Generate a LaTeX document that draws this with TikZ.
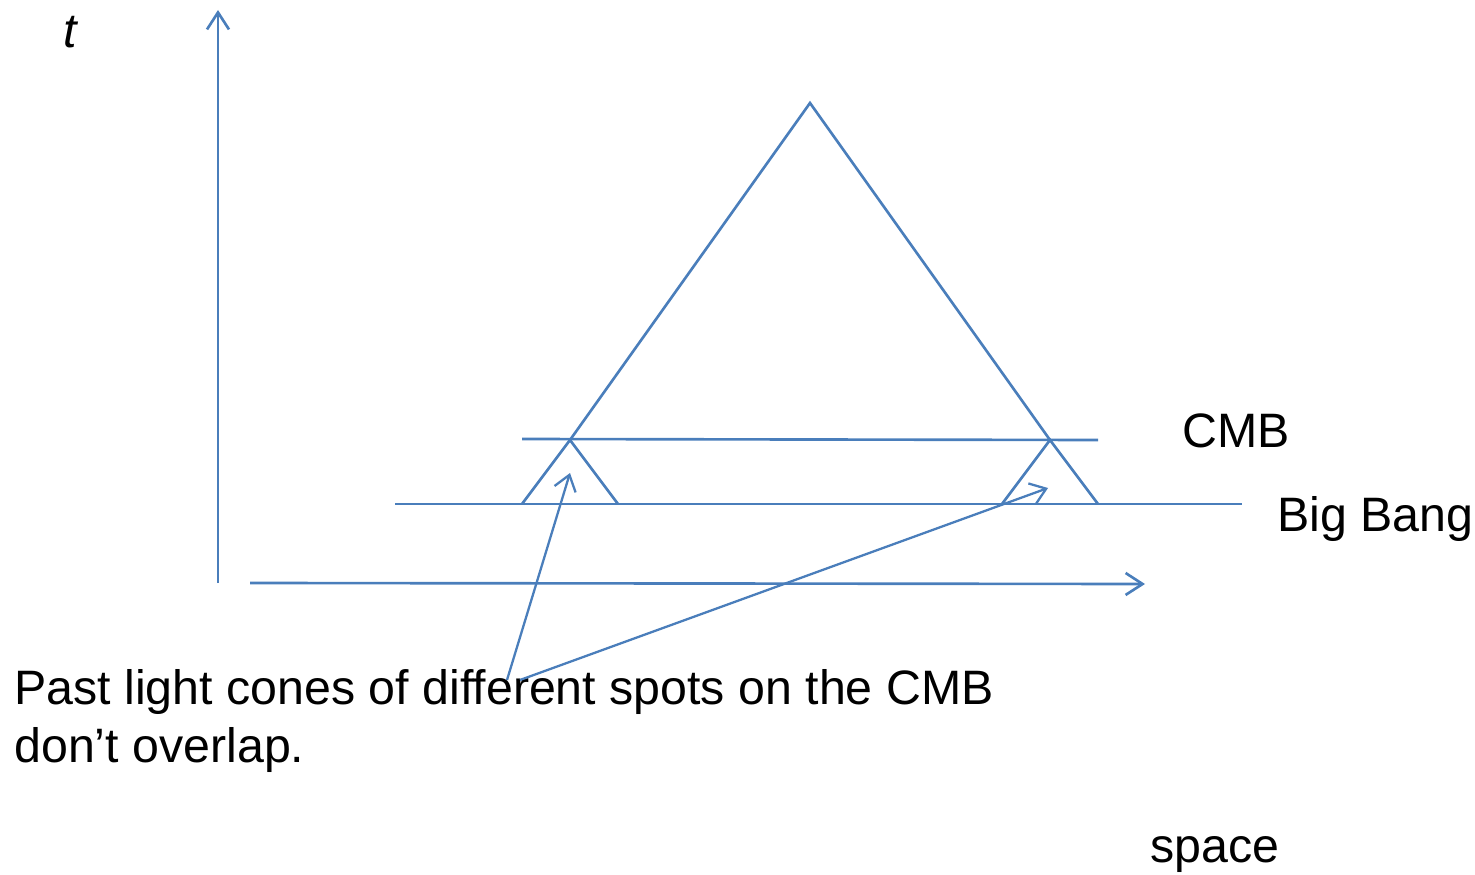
\documentclass[tikz,border=0pt]{standalone}
\usepackage{fontspec}
\setmainfont{Liberation Sans}
\usepackage{xcolor}
\usepackage{tikz}
\usetikzlibrary{arrows.meta, positioning}
\definecolor{coneblue}{HTML}{4A7EBB}
\tikzset{
  line/.style={draw=coneblue, line width=1.5pt},
  axis/.style={line, -{Straight Barb[length=3.4mm, width=4.4mm, line width=1.5pt]}},
  pointer/.style={line, line width=1.3pt, -{Straight Barb[length=3mm, width=4.4mm, line width=1.3pt]}},
  lbl/.style={font=\fontsize{27.5}{33}\selectfont, inner sep=0pt, text=black, anchor=base west, align=left},
}
\begin{document}
\begin{tikzpicture}[x=0.02cm, y=-0.02cm]
\useasboundingbox (0,0) rectangle (1475,875);
% axes
\coordinate (torig) at (218,583);
\coordinate (ttip) at (218,10);
\coordinate (sorig) at (250,583);
\coordinate (stip) at (1145,584);
\draw[axis] (torig) -- (ttip);
\draw[axis] (sorig) -- (stip);
\node[lbl, font=\fontsize{27.5}{33}\selectfont\itshape] (tlab) at (63,48) {t};
\node[lbl] (spacelab) at (1150,862) {space};
% CMB and Big Bang slices
\coordinate (cmbL) at (522,439);
\coordinate (cmbR) at (1098,440);
\coordinate (bbL) at (395,504);
\coordinate (bbR) at (1242,504);
\draw[line] (cmbL) -- (cmbR);
\draw[line] (bbL) -- (bbR);
\node[lbl] (cmblab) at (1182,447) {CMB};
\node[lbl] (bblab) at (1277,531) {Big Bang};
% big past light cone
\coordinate (apex) at (810,103);
\coordinate (spotA) at (570,440);
\coordinate (spotB) at (1050,440);
\draw[line] (spotA) -- (apex) -- (spotB);
% small cones of the two spots
\draw[line] (522,504) -- (spotA) -- (618,504);
\draw[line] (1002,504) -- (spotB) -- (1098,504);
% caption and pointers
\node[lbl] (note) at (14,762) {Past light cones of different spots on the CMB\\don’t overlap.};
\coordinate (foot) at (507,680);
\coordinate (foot2) at (520,680);
\draw[pointer] (foot) -- (570,473);
\draw[pointer] (foot2) -- (1048,488);
\end{tikzpicture}
\end{document}
